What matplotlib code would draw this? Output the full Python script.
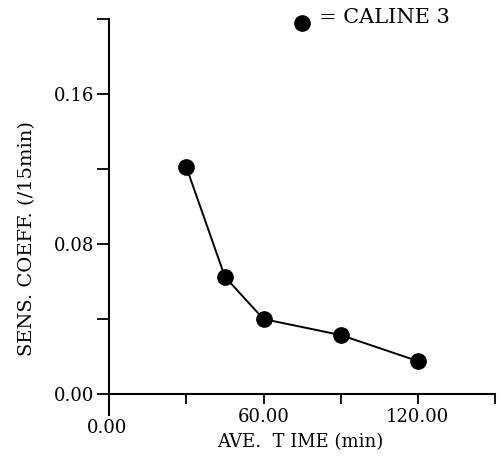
import numpy as np
import matplotlib
matplotlib.use("Agg")
import matplotlib.pyplot as plt

# averaging time (min) vs sensitivity coefficient
ave_time = [30, 45, 60, 90, 120]
sens_coeff = [0.121, 0.0625, 0.040, 0.0315, 0.0176]

y_ticks = [0.0, 0.04, 0.08, 0.12, 0.16, 0.20]
y_labels = ["0.00", "", "0.08", "", "0.16", ""]
x_ticks = [30, 60, 90, 120, 150]
x_labels = ["", "60.00", "", "120.00", ""]

plt.rcParams['font.family'] = ['DejaVu Serif']

fig = plt.figure(figsize=(5.01, 4.59), dpi=100)
ax = fig.add_axes([0.218, 0.0965, 0.770, 0.862])

ax.plot(ave_time, sens_coeff, color='black', lw=1.4, marker='o',
        markersize=11, markerfacecolor='black', markeredgecolor='black',
        clip_on=False)

ax.set_xlim(0, 150)
ax.set_ylim(-0.011, 0.20)

for s in ['top', 'right']:
    ax.spines[s].set_visible(False)
ax.spines['bottom'].set_position(('data', 0))
ax.spines['left'].set_linewidth(1.5)
ax.spines['bottom'].set_linewidth(1.5)

ax.set_yticks(y_ticks)
ax.set_yticklabels(y_labels, fontsize=13)
ax.set_xticks(x_ticks)
ax.set_xticklabels(x_labels, fontsize=13)
ax.tick_params(axis='y', direction='out', length=9, width=1.3, pad=2)
ax.tick_params(axis='x', direction='out', length=7, width=1.3, pad=3)

# zero label for the time axis sits below the extended y axis
ax.text(-1, -0.0135, "0.00", transform=ax.transData, ha='center', va='top',
        fontsize=13, clip_on=False)

ax.set_ylabel("SENS. COEFF. (/15min)", fontsize=14)
ax.yaxis.set_label_coords(-0.19, 0.444)
fig.text(0.60, 0.036, "AVE.  T IME (min)", ha='center', va='center',
         fontsize=13)

# key at the top
ax.plot([0.603], [0.950], 'o', color='black', markersize=11,
        transform=fig.transFigure, clip_on=False)
fig.text(0.636, 0.962, "= CALINE 3", fontsize=15, ha='left', va='center')

fig.savefig("out.png", dpi=100)
